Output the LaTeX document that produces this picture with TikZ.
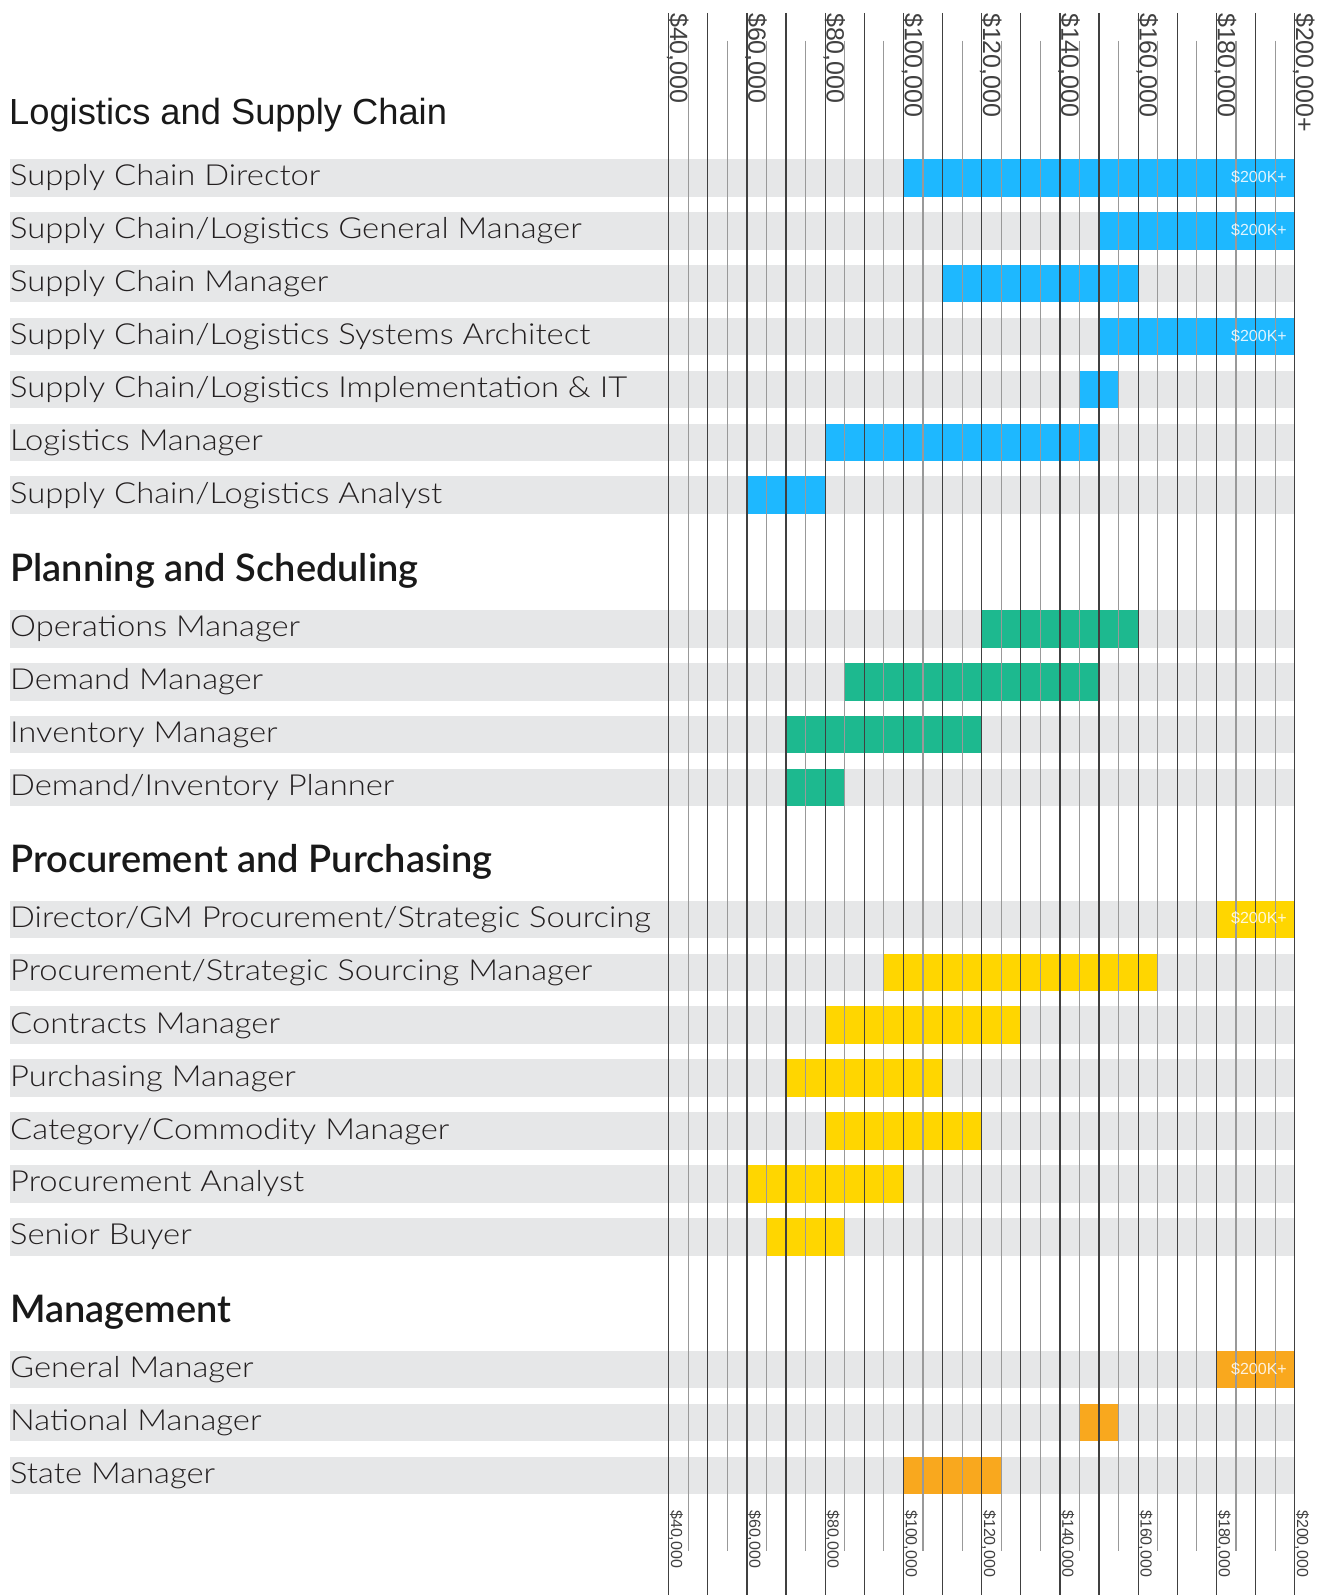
\documentclass[tikz,border=0pt]{standalone}
\usepackage{fontspec}
\setmainfont{Liberation Sans}
\newfontfamily\rolefont{Lato}[UprightFont=* Light, FakeStretch=1.13]
\newfontfamily\groupfont{Lato}[UprightFont=* Semibold]

\definecolor{logblue}{RGB}{30,184,255}
\definecolor{plangreen}{RGB}{29,185,143}
\definecolor{procyellow}{RGB}{255,214,0}
\definecolor{mgmtorange}{RGB}{249,168,30}
\definecolor{rowgray}{RGB}{230,231,232}
\definecolor{inkdark}{RGB}{35,31,32}

\tikzset{
  role/.style={anchor=base west, inner sep=0pt, text=inkdark,
    font=\rolefont\fontsize{29}{31}\selectfont},
  group/.style={anchor=base west, inner sep=0pt, text=black!90,
    font=\groupfont\fontsize{38}{40}\selectfont},
  topval/.style={rotate=-90, anchor=base west, inner sep=0pt, text=black!75,
    font=\fontsize{25}{27}\selectfont},
  botval/.style={rotate=-90, anchor=base west, inner sep=0pt, text=black!75,
    font=\fontsize{16}{18}\selectfont},
  capped/.style={anchor=base east, inner sep=0pt, text=white, text opacity=0.85,
    font=\fontsize{16}{18}\selectfont},
  major/.style={line width=1.3pt, black!75},
  minor/.style={line width=1.1pt, black!40}
}

% one role: name, top of row, label, from, to (in k$), colour
\newcommand{\jobrow}[6]{%
  \fill[rowgray] (10,#2) rectangle (1294.7,{#2+37.6});
  \fill[#6] ({668.7+(#4-40)*3.9125},#2) rectangle ({668.7+(#5-40)*3.9125},{#2+37.6});
  \node[role] (#1) at (10,{#2+26.8}) {#3};
}

\begin{document}
\begin{tikzpicture}[x=1pt, y=-1pt]
  \useasboundingbox (0,0) rectangle (1318,1595);

  % Logistics and Supply Chain
  \node[anchor=base west, inner sep=0pt, text=black!90, font=\fontsize{36.3}{38}\selectfont]
    (logistics) at (9,124) {Logistics and Supply Chain};
  \jobrow{scdir}{159}{Supply Chain Director}{100}{200}{logblue}
  \jobrow{scgm}{211.9}{Supply Chain/Logistics General Manager}{150}{200}{logblue}
  \jobrow{scman}{264.8}{Supply Chain Manager}{110}{160}{logblue}
  \jobrow{scarch}{317.7}{Supply Chain/Logistics Systems Architect}{150}{200}{logblue}
  \jobrow{scit}{370.6}{Supply Chain/Logistics Implementation \& IT}{145}{155}{logblue}
  \jobrow{logman}{423.5}{Logistics Manager}{80}{150}{logblue}
  \jobrow{scana}{476.4}{Supply Chain/Logistics Analyst}{60}{80}{logblue}

  % Planning and Scheduling
  \node[group] (planning) at (10,581.5) {Planning and Scheduling};
  \jobrow{opsman}{610}{Operations Manager}{120}{160}{plangreen}
  \jobrow{demman}{662.9}{Demand Manager}{85}{150}{plangreen}
  \jobrow{invman}{715.8}{Inventory Manager}{70}{120}{plangreen}
  \jobrow{planner}{768.7}{Demand/Inventory Planner}{70}{85}{plangreen}

  % Procurement and Purchasing
  \node[group] (procurement) at (10,872.1) {Procurement and Purchasing};
  \jobrow{procdir}{900.6}{Director/GM Procurement/Strategic Sourcing}{180}{200}{procyellow}
  \jobrow{procman}{953.5}{Procurement/Strategic Sourcing Manager}{95}{165}{procyellow}
  \jobrow{conman}{1006.4}{Contracts Manager}{80}{130}{procyellow}
  \jobrow{purman}{1059.3}{Purchasing Manager}{70}{110}{procyellow}
  \jobrow{catman}{1112.2}{Category/Commodity Manager}{80}{120}{procyellow}
  \jobrow{procana}{1165.1}{Procurement Analyst}{60}{100}{procyellow}
  \jobrow{buyer}{1218}{Senior Buyer}{65}{85}{procyellow}

  % Management
  \node[group] (management) at (10,1322.2) {Management};
  \jobrow{genman}{1350.7}{General Manager}{180}{200}{mgmtorange}
  \jobrow{natman}{1403.6}{National Manager}{145}{155}{mgmtorange}
  \jobrow{stateman}{1456.5}{State Manager}{100}{125}{mgmtorange}

  % Grid: every $10,000 and halfway
  \foreach \k in {0,...,16}
    \draw[major] ({668.7+\k*39.125},13) -- ({668.7+\k*39.125},1595);
  \foreach \k in {0,...,15}
    \draw[minor] ({688.26+\k*39.125},40.7) -- ({688.26+\k*39.125},1550.7);

  % Salary scale, top and bottom
  \foreach \v in {40,60,...,180} {
    \node[topval] (top\v) at ({670.2+(\v-40)*3.9125},13) {\$\v,000};
    \node[botval] (bot\v) at ({671+(\v-40)*3.9125},1510) {\$\v,000};
  }
  \node[topval] (top200) at (1296.2,13) {\$200,000+};
  \node[botval] (bot200) at (1297,1510) {\$200,000};

  % Open-ended bars
  \node[capped] (scdirplus) at (1287,{159+23.3}) {\$200K+};
  \node[capped] (scgmplus) at (1287,{211.9+23.3}) {\$200K+};
  \node[capped] (scarchplus) at (1287,{317.7+23.3}) {\$200K+};
  \node[capped] (procdirplus) at (1287,{900.6+23.3}) {\$200K+};
  \node[capped] (genmanplus) at (1287,{1350.7+23.3}) {\$200K+};
\end{tikzpicture}
\end{document}
